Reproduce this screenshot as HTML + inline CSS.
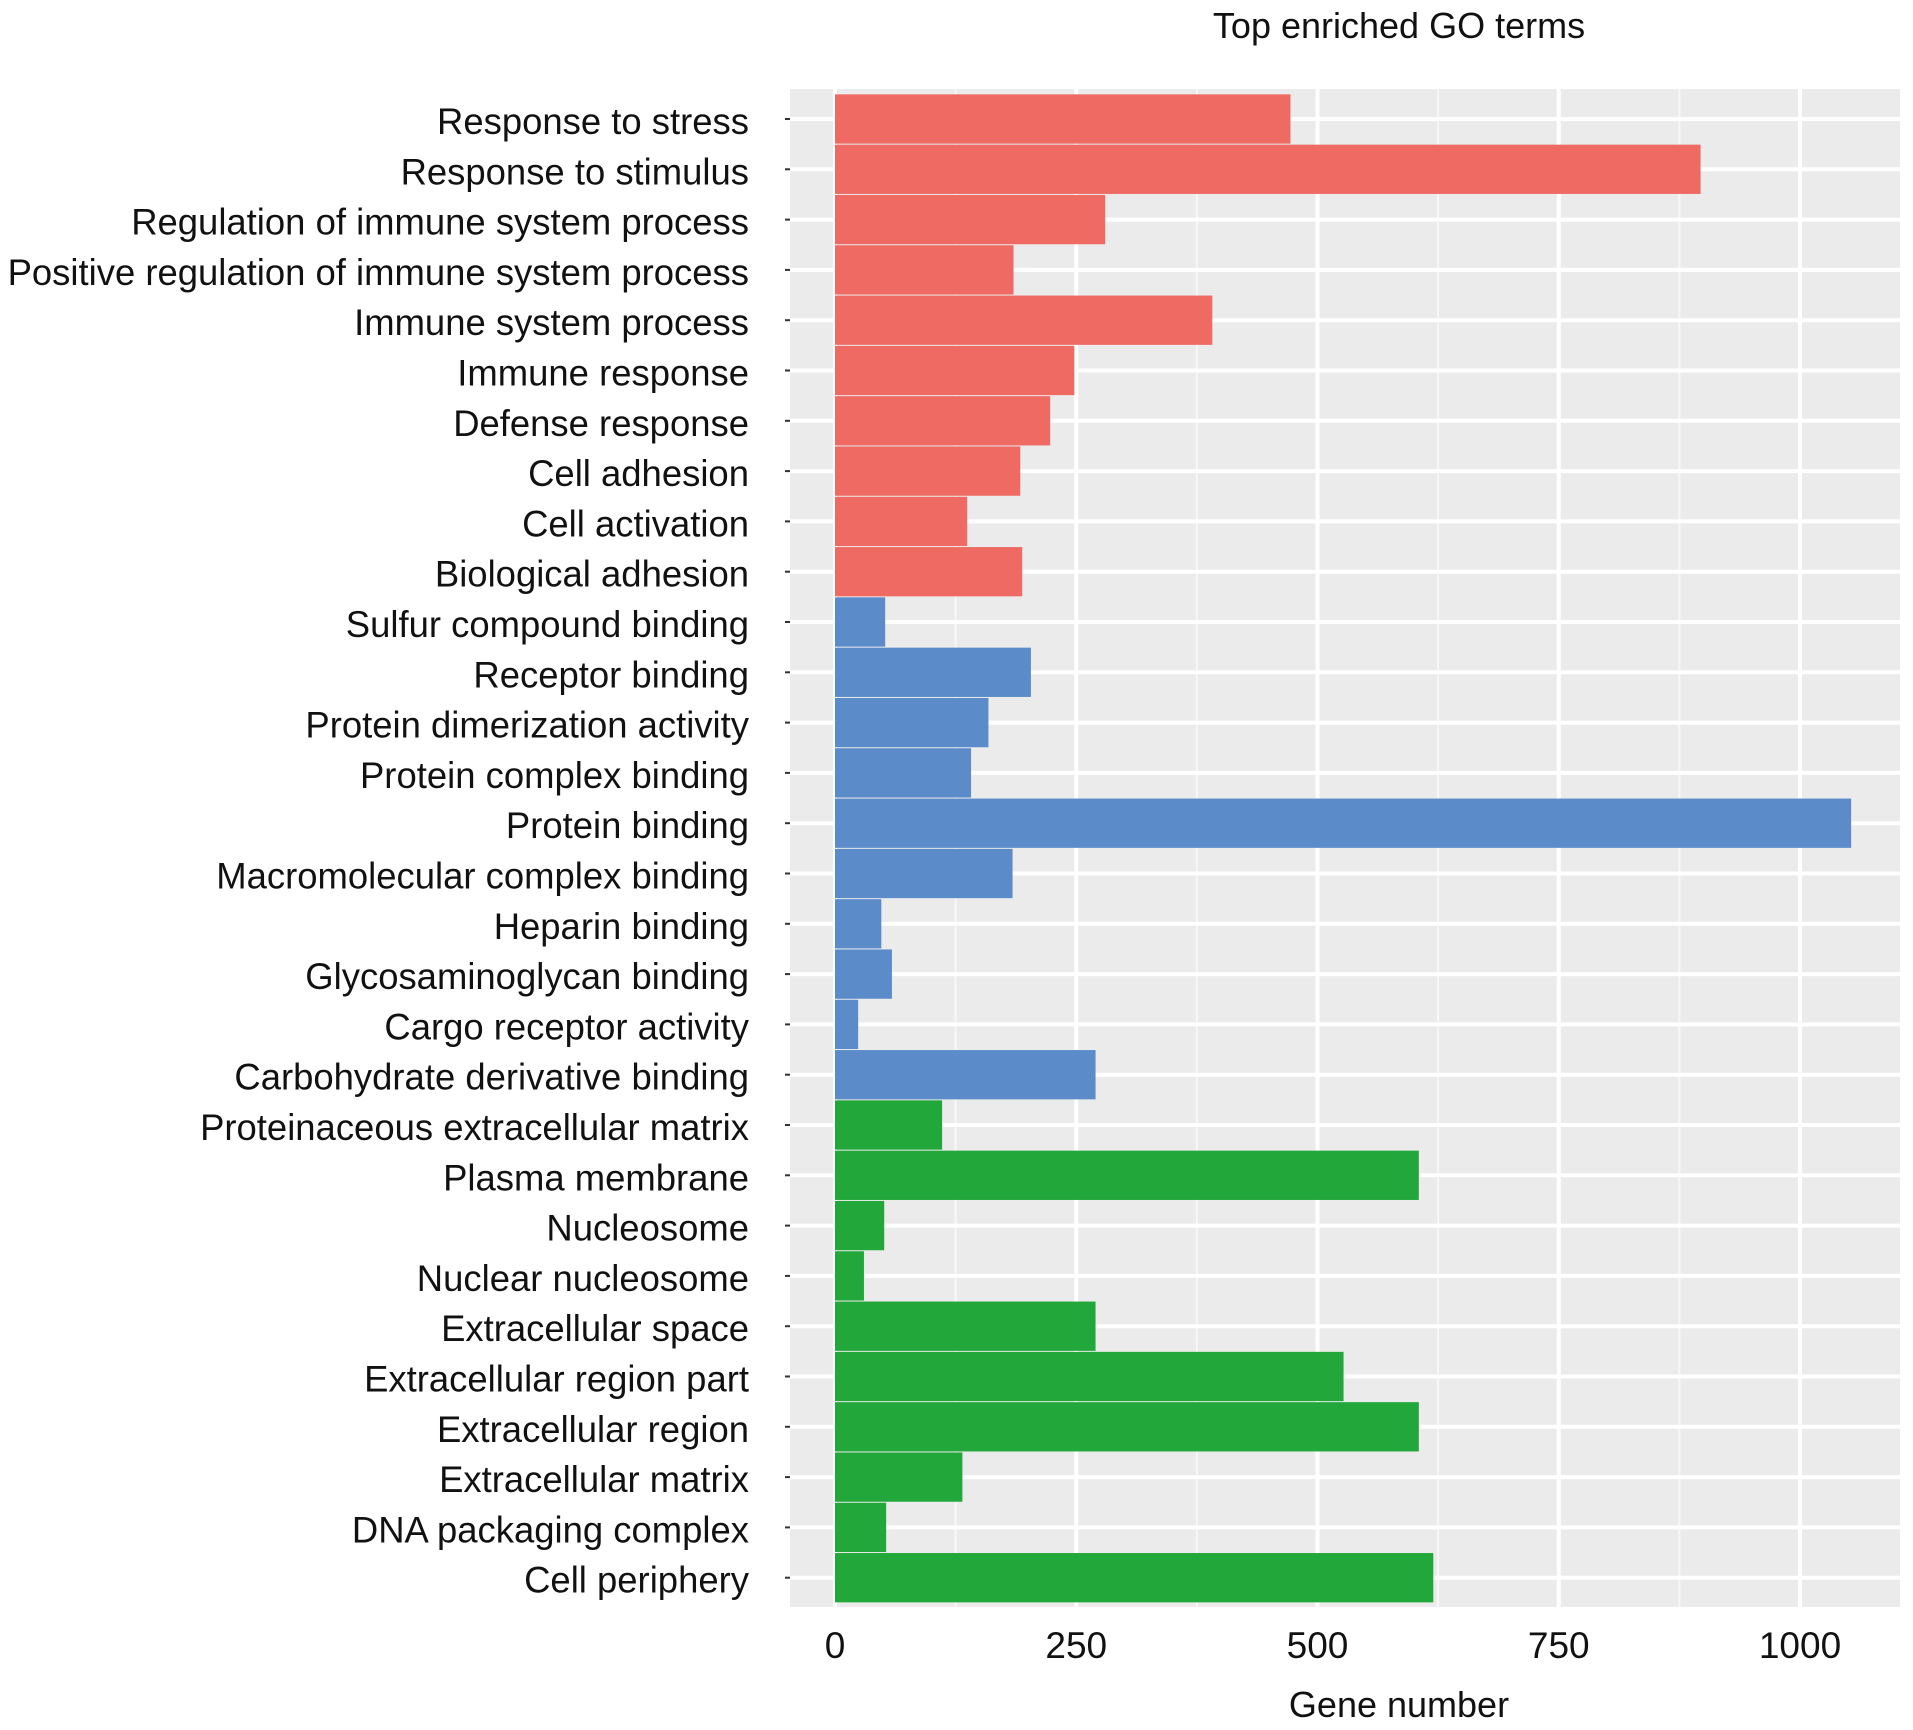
<!DOCTYPE html>
<html><head><meta charset="utf-8"><style>
html,body{margin:0;padding:0;background:#fff;}
svg{display:block;font-family:"Liberation Sans",Arial,sans-serif;}
</style></head><body>
<svg id="chart" width="1913" height="1730" viewBox="0 0 1913 1730">
<text x="1399" y="38" font-size="36" text-anchor="middle" fill="#111">Top enriched GO terms</text>
<g id="panel"></g>
<g id="bars"></g>
<g id="ylabels"></g>
<g id="xlabels"></g>
<text x="1399" y="1717" font-size="36" text-anchor="middle" fill="#111">Gene number</text>
</svg>
<script>
const categories = ["Response to stress","Response to stimulus","Regulation of immune system process","Positive regulation of immune system process","Immune system process","Immune response","Defense response","Cell adhesion","Cell activation","Biological adhesion","Sulfur compound binding","Receptor binding","Protein dimerization activity","Protein complex binding","Protein binding","Macromolecular complex binding","Heparin binding","Glycosaminoglycan binding","Cargo receptor activity","Carbohydrate derivative binding","Proteinaceous extracellular matrix","Plasma membrane","Nucleosome","Nuclear nucleosome","Extracellular space","Extracellular region part","Extracellular region","Extracellular matrix","DNA packaging complex","Cell periphery"];
const values = [472,897,280,185,391,248,223,192,137,194,52,203,159,141,1053,184,48,59,24,270,111,605,51,30,270,527,605,132,53,620];
const groups = ["BP","BP","BP","BP","BP","BP","BP","BP","BP","BP","MF","MF","MF","MF","MF","MF","MF","MF","MF","MF","CC","CC","CC","CC","CC","CC","CC","CC","CC","CC"];
const xTicks = [0,250,500,750,1000];
const xTickLabels = ["0","250","500","750","1000"];
const groupColors = {BP:"#EF6A63",MF:"#5B8BC9",CC:"#22A73A"};

const NS="http://www.w3.org/2000/svg";
const PL=790, PR=1900, PT=89, PB=1607;
const X0=835, PXU=0.965;
const Y0=119, BAND=50.3;
function xs(v){return X0+v*PXU;}
function ys(i){return Y0+i*BAND;}
function mk(tag,attrs,parent){const e=document.createElementNS(NS,tag);for(const k in attrs)e.setAttribute(k,attrs[k]);parent.appendChild(e);return e;}

const panel=document.getElementById('panel');
const bg=mk('rect',{x:PL,y:PT,width:PR-PL,height:PB-PT,fill:"#EBEBEB"},panel);


for(let k=0;k<xTicks.length-1;k++){
  const v=(xTicks[k]+xTicks[k+1])/2;
  const g=mk('line',{x1:xs(v),x2:xs(v),y1:PT,y2:PB,stroke:"#F7F7F7","stroke-width":2},panel);
  
  
}
{const v=xTicks[xTicks.length-1]+125;const g=mk('line',{x1:xs(v),x2:xs(v),y1:PT,y2:PB,stroke:"#F7F7F7","stroke-width":2},panel);

}
xTicks.forEach(v=>{
  const g=mk('line',{x1:xs(v),x2:xs(v),y1:PT,y2:PB,stroke:"#fff","stroke-width":4},panel);
  
  
});
categories.forEach((c,i)=>{
  const g=mk('line',{x1:PL,x2:PR,y1:ys(i),y2:ys(i),stroke:"#fff","stroke-width":4},panel);
  
  
});

const bars=document.getElementById('bars');
values.forEach((v,i)=>{
  const r=mk('rect',{x:xs(0),y:ys(i)-BAND/2+0.5,width:xs(v)-xs(0),height:BAND-1,fill:groupColors[groups[i]]},bars);
  
  
});

const yl=document.getElementById('ylabels');
categories.forEach((c,i)=>{
  const t=mk('text',{x:749,y:ys(i)+15,"font-size":37,"text-anchor":"end",fill:"#111"},yl);
  t.textContent=c;
  
  
  const tk=mk('line',{x1:785,x2:790,y1:ys(i),y2:ys(i),stroke:"#333","stroke-width":2},yl);
  
  
});
const xl=document.getElementById('xlabels');
xTicks.forEach((v,k)=>{
  const t=mk('text',{x:xs(v),y:1658,"font-size":37,"text-anchor":"middle",fill:"#111"},xl);
  t.textContent=xTickLabels[k];
  
  
});
yl.querySelectorAll('text').forEach(t=>{
  const w=t.getComputedTextLength();
  if(w>0){t.setAttribute('textLength',(w*0.985).toFixed(1));t.setAttribute('lengthAdjust','spacingAndGlyphs');}
});
</script>
</body></html>
